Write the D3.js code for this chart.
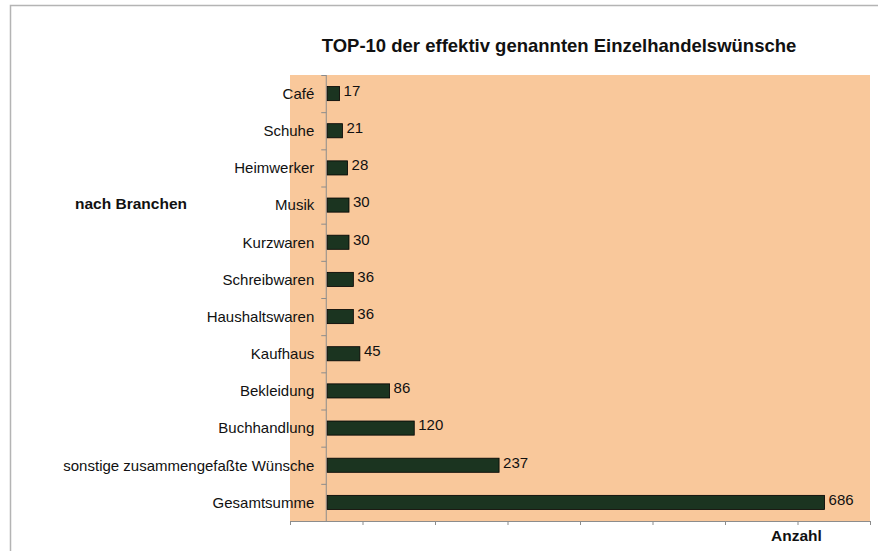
<!DOCTYPE html>
<html>
<head>
<meta charset="utf-8">
<script src="https://cdn.jsdelivr.net/npm/d3@7"></script>
<style>
    body { margin: 0; background: #fff; }
    text { font-family: "Liberation Sans", Arial, sans-serif; }
</style>
</head>
<body>
<div id="chart"></div>
<script>
// Chart data
let categories = ["Café", "Schuhe", "Heimwerker", "Musik", "Kurzwaren", "Schreibwaren",
    "Haushaltswaren", "Kaufhaus", "Bekleidung", "Buchhandlung",
    "sonstige zusammengefaßte Wünsche", "Gesamtsumme"];
let values = [17, 21, 28, 30, 30, 36, 36, 45, 86, 120, 237, 686];
let xTicks = [-50, 50, 150, 250, 350, 450, 550, 650, 750];

let width = 878, height = 552;
let margin = {top: 75, right: 8, bottom: 31, left: 290};
let plotW = width - margin.left - margin.right;
let plotH = height - margin.top - margin.bottom;

let svg = d3.select("#chart").append("svg")
    .attr("width", width)
    .attr("height", height);

// outer frame
svg.append("path")
    .attr("d", "M10.5,551 L10.5,5.5 L878,5.5")
    .attr("fill", "none")
    .attr("stroke", "#b4b4b4")
    .attr("stroke-width", 1.5);

let g = svg.append("g")
    .attr("transform", "translate(" + margin.left + "," + margin.top + ")");

// Scales
let x = d3.scaleLinear()
    .domain([-50, 750])
    .range([0, plotW]);

let y = d3.scaleBand()
    .domain(categories)
    .range([0, plotH])
    .paddingInner(0.62)
    .paddingOuter(0.31);

// plot background
g.append("rect")
    .attr("x", 0)
    .attr("y", 0)
    .attr("width", plotW)
    .attr("height", plotH)
    .attr("fill", "#f9c89b");

// x axis (no labels)
let xAxis = d3.axisBottom(x)
    .tickValues(xTicks)
    .tickSize(4)
    .tickFormat("");

g.append("g")
    .attr("transform", "translate(0," + plotH + ")")
    .call(xAxis)
    .call(a => a.selectAll("line, path").attr("stroke", "#8c8c8c"))
    .call(a => a.select(".domain").attr("d", "M0.5,0.5H" + plotW));

// y axis at value 0, ticks between categories
let step = y.step();
let yAxisG = g.append("g")
    .attr("transform", "translate(" + x(0) + ",0)");

yAxisG.append("line")
    .attr("x1", 0).attr("x2", 0)
    .attr("y1", 0).attr("y2", plotH)
    .attr("stroke", "#8c8c8c");

yAxisG.selectAll(".ytick")
    .data(d3.range(categories.length))
    .enter()
    .append("line")
    .attr("class", "ytick")
    .attr("x1", -5).attr("x2", 0)
    .attr("y1", i => y(categories[i]) - step * 0.31 + 0.5)
    .attr("y2", i => y(categories[i]) - step * 0.31 + 0.5)
    .attr("stroke", "#8c8c8c");

// category labels
g.selectAll(".cat-label")
    .data(categories)
    .enter()
    .append("text")
    .attr("class", "cat-label")
    .attr("x", x(0) - 12)
    .attr("y", d => y(d) + y.bandwidth() / 2)
    .attr("dy", "0.35em")
    .attr("text-anchor", "end")
    .attr("font-size", 15)
    .attr("fill", "#111")
    .text(d => d);

// bars
g.selectAll(".bar")
    .data(values)
    .enter()
    .append("rect")
    .attr("class", "bar")
    .attr("x", x(0) + 1)
    .attr("y", (d, i) => y(categories[i]))
    .attr("width", d => x(d) - x(0))
    .attr("height", y.bandwidth())
    .attr("fill", "#1b3420")
    .attr("stroke", "#000")
    .attr("stroke-width", 0.8);

// value labels
g.selectAll(".bar-label")
    .data(values)
    .enter()
    .append("text")
    .attr("class", "bar-label")
    .attr("x", d => x(d) + 5)
    .attr("y", (d, i) => y(categories[i]) + y.bandwidth() / 2 - 3)
    .attr("dy", "0.35em")
    .attr("font-size", 15)
    .attr("fill", "#111")
    .text(d => d);

// title
svg.append("text")
    .attr("x", 559)
    .attr("y", 52)
    .attr("text-anchor", "middle")
    .attr("font-size", 18.5)
    .attr("font-weight", "bold")
    .attr("fill", "#111")
    .text("TOP-10 der effektiv genannten Einzelhandelswünsche");

// axis titles
svg.append("text")
    .attr("x", 75)
    .attr("y", 209)
    .attr("font-size", 15.5)
    .attr("font-weight", "bold")
    .attr("fill", "#111")
    .text("nach Branchen");

svg.append("text")
    .attr("x", 771)
    .attr("y", 541)
    .attr("font-size", 15.5)
    .attr("font-weight", "bold")
    .attr("fill", "#111")
    .text("Anzahl");
</script>
</body>
</html>
